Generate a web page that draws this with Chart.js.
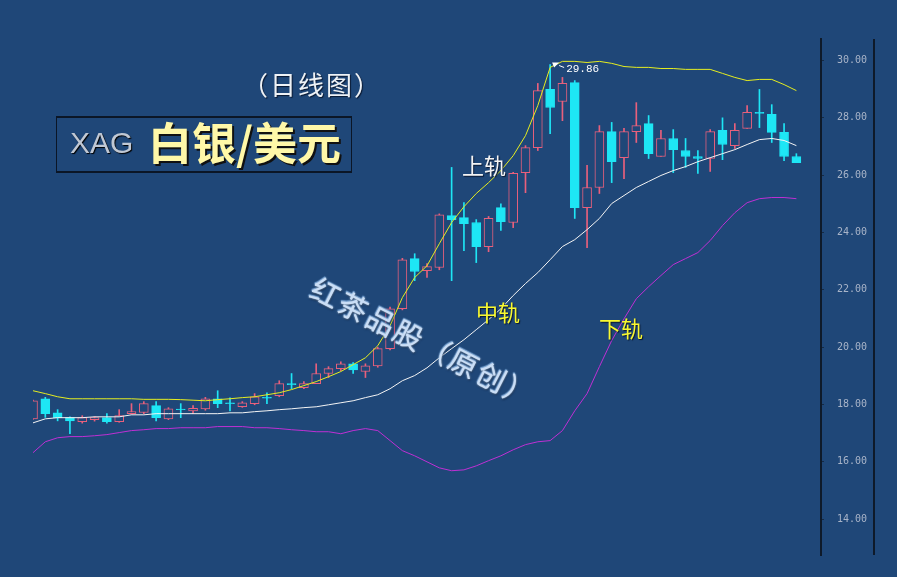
<!DOCTYPE html>
<html>
<head>
<meta charset="utf-8">
<script src="https://cdn.jsdelivr.net/npm/chart.js@4.4.1/dist/chart.umd.min.js"></script>
<style>
html, body { margin: 0; padding: 0; }
body { width: 897px; height: 577px; background: #1f4778; position: relative; overflow: hidden; font-family: "Noto Sans CJK SC", sans-serif; }
#chart { position: absolute; left: 0; top: 0; }
.lbl { position: absolute; white-space: nowrap; line-height: 1; }
#period { left: 242px; top: 71px; font-size: 26px; letter-spacing: 2px; color: #eef2f6; text-shadow: 1px 1px 1px #0a1830; }
#box { position: absolute; left: 56px; top: 116px; width: 294px; height: 53px; border: 1px solid #0b1626; border-top-width: 2px; border-bottom-width: 2px; }
#xag { left: 70px; top: 128px; font-family: "Liberation Sans", sans-serif; font-size: 30px; color: #c0c8d4; text-shadow: 1px 1px 1px #000; }
#pair { left: 148px; top: 119px; font-size: 44px; font-weight: bold; color: #fff8a8; text-shadow: 2px 2px 0 #111; }
#up { left: 462px; top: 153px; font-size: 22px; color: #f4f4f4; text-shadow: 1px 1px 1px #0a1830; }
#mid { left: 476px; top: 300px; font-size: 22px; color: #f8f830; text-shadow: 1px 1px 1px #0a1830; }
#low { left: 599px; top: 316px; font-size: 22px; color: #f8f830; text-shadow: 1px 1px 1px #0a1830; }
#mark { left: 320px; top: 272px; font-size: 29px; letter-spacing: 2px; color: #cadef6; transform: rotate(27deg); transform-origin: left top;
  text-shadow: 0 0 2px #e0f0ff, 1px 1px 2px #0a2040, -1px -1px 1px #6a9ad0; }
</style>
</head>
<body>
<canvas id="chart" width="897" height="577"></canvas>
<div class="lbl" id="period">（日线图）</div>
<div id="box"></div>
<div class="lbl" id="xag">XAG</div>
<div class="lbl" id="pair">白银/美元</div>
<div class="lbl" id="up">上轨</div>
<div class="lbl" id="mid">中轨</div>
<div class="lbl" id="low">下轨</div>
<div class="lbl" id="mark">红茶品股（原创）</div>
<script>
/* daily candles */
var opens = [17.50, 18.20, 17.71, 17.54, 17.40, 17.47, 17.54, 17.40, 17.68, 17.72,
	17.96, 17.50, 17.84, 17.78, 17.85, 18.20, 18.06, 17.92, 18.03, 18.25,
	18.31, 18.73, 18.59, 18.73, 19.08, 19.25, 19.42, 19.15, 19.35, 19.95,
	21.34, 23.09, 22.67, 22.78, 24.59, 24.52, 24.35, 23.51, 24.87, 24.35,
	26.09, 26.96, 28.99, 28.57, 29.23, 24.87, 25.57, 27.52, 26.61, 27.52,
	27.80, 26.65, 27.28, 26.86, 26.65, 26.58, 27.56, 27.03, 27.63, 28.19,
	28.12, 27.49, 26.65];
var highs = [18.15, 18.25, 17.82, 17.57, 17.61, 17.58, 17.68, 17.82, 18.03, 18.10,
	18.10, 17.89, 18.03, 17.96, 18.25, 18.48, 18.23, 18.10, 18.38, 18.41,
	18.83, 19.08, 18.80, 19.42, 19.32, 19.49, 19.46, 19.42, 20.00, 21.40,
	23.10, 23.26, 22.92, 24.65, 26.27, 25.04, 24.45, 24.56, 25.00, 26.10,
	27.03, 29.20, 29.86, 29.41, 29.30, 26.34, 27.73, 27.84, 27.63, 28.53,
	28.08, 27.56, 27.59, 27.28, 26.86, 27.59, 28.00, 27.80, 28.43, 28.99,
	28.46, 27.80, 26.75];
var lows = [17.48, 17.55, 17.43, 16.98, 17.35, 17.42, 17.35, 17.38, 17.66, 17.68,
	17.43, 17.47, 17.54, 17.68, 17.80, 17.89, 17.78, 17.90, 17.99, 18.03,
	18.27, 18.55, 18.55, 18.73, 18.94, 19.18, 19.08, 18.94, 19.30, 19.90,
	21.30, 22.32, 22.43, 22.70, 22.32, 23.37, 22.95, 23.33, 24.07, 24.17,
	25.39, 26.86, 27.45, 27.90, 24.49, 23.47, 25.36, 25.74, 25.88, 27.14,
	26.58, 26.65, 26.09, 26.27, 26.06, 26.13, 26.54, 26.93, 27.63, 27.66,
	27.14, 26.51, 26.44];
var closes = [18.13, 17.68, 17.54, 17.43, 17.54, 17.54, 17.40, 17.61, 17.75, 18.03,
	17.54, 17.85, 17.82, 17.87, 18.20, 18.03, 18.03, 18.06, 18.27, 18.22,
	18.73, 18.69, 18.73, 19.08, 19.25, 19.42, 19.21, 19.35, 19.95, 21.34,
	23.05, 22.64, 22.81, 24.62, 24.45, 24.31, 23.51, 24.49, 24.38, 26.06,
	26.96, 28.95, 28.36, 29.20, 24.87, 25.57, 27.52, 26.47, 27.52, 27.73,
	26.75, 27.28, 26.89, 26.65, 26.58, 27.52, 27.07, 27.56, 28.19, 28.15,
	27.49, 26.65, 26.44];

/* bollinger bands */
var upperBand = [18.48, 18.38, 18.27, 18.20, 18.20, 18.20, 18.20, 18.20, 18.20, 18.18,
	18.18, 18.18, 18.17, 18.15, 18.13, 18.17, 18.20, 18.24, 18.27, 18.34,
	18.41, 18.52, 18.66, 18.80, 18.97, 19.15, 19.39, 19.63, 20.05, 20.75,
	21.73, 22.43, 22.84, 23.61, 24.35, 24.90, 25.36, 25.74, 26.16, 26.68,
	27.38, 28.43, 29.76, 29.97, 29.97, 29.93, 29.97, 29.90, 29.79, 29.76,
	29.76, 29.72, 29.72, 29.69, 29.69, 29.69, 29.55, 29.41, 29.30, 29.34,
	29.34, 29.16, 28.95];
var middleBand = [17.36, 17.50, 17.54, 17.54, 17.54, 17.57, 17.57, 17.57, 17.64, 17.64,
	17.68, 17.68, 17.68, 17.68, 17.68, 17.68, 17.71, 17.71, 17.75, 17.78,
	17.82, 17.85, 17.89, 17.92, 17.99, 18.06, 18.13, 18.24, 18.34, 18.55,
	18.83, 19.01, 19.28, 19.63, 19.95, 20.26, 20.61, 20.96, 21.34, 21.80,
	22.22, 22.60, 23.05, 23.51, 23.75, 24.10, 24.49, 25.01, 25.29, 25.57,
	25.78, 25.99, 26.16, 26.30, 26.47, 26.61, 26.75, 26.89, 27.07, 27.24,
	27.28, 27.21, 27.03];
var lowerBand = [16.32, 16.70, 16.84, 16.88, 16.88, 16.91, 16.95, 17.02, 17.09, 17.12,
	17.16, 17.16, 17.19, 17.19, 17.19, 17.23, 17.23, 17.23, 17.19, 17.19,
	17.16, 17.12, 17.09, 17.05, 17.05, 16.98, 17.09, 17.16, 17.09, 16.74,
	16.39, 16.21, 16.00, 15.79, 15.69, 15.72, 15.86, 16.04, 16.21, 16.42,
	16.60, 16.70, 16.74, 17.09, 17.78, 18.38, 19.32, 20.23, 20.99, 21.69,
	22.11, 22.50, 22.88, 23.09, 23.30, 23.72, 24.24, 24.69, 25.04, 25.18,
	25.22, 25.22, 25.18];

/* two empty slots on the right */
var labels = [];
for (var i = 0; i < 65; i++) {
	labels.push(String(i + 1));
}

var yTicks = [14, 16, 18, 20, 22, 24, 26, 28, 30];

var background = '#1f4778';
var upColor = '#e8607c';
var downColor = '#1ee6f5';

var bodies = [];
var wicks = [];
var bodyFill = [];
var candleColor = [];
for (var i = 0; i < opens.length; i++) {
	bodies.push([opens[i], closes[i]]);
	wicks.push([lows[i], highs[i]]);
	if (closes[i] > opens[i]) {
		bodyFill.push(background);
		candleColor.push(upColor);
	} else {
		bodyFill.push(downColor);
		candleColor.push(downColor);
	}
}

var extras = {
	id: 'extras',
	afterDraw: function(chart) {
		var ctx = chart.ctx;
		var area = chart.chartArea;
		var xs = chart.scales.x;
		var ys = chart.scales.y;
		ctx.save();
		// outer frame line of the price axis
		ctx.strokeStyle = '#0e1a2a';
		ctx.lineWidth = 2;
		ctx.beginPath();
		ctx.moveTo(area.right + 53, area.top);
		ctx.lineTo(area.right + 53, area.bottom);
		ctx.stroke();
		// highest high marker
		var top = highs.indexOf(Math.max.apply(null, highs));
		var px = xs.getPixelForValue(top);
		var py = ys.getPixelForValue(highs[top]);
		ctx.fillStyle = '#ffffff';
		ctx.beginPath();
		ctx.moveTo(px + 2, py - 2);
		ctx.lineTo(px + 9, py - 2);
		ctx.lineTo(px + 4, py + 3);
		ctx.closePath();
		ctx.fill();
		ctx.strokeStyle = '#ffffff';
		ctx.lineWidth = 1;
		ctx.beginPath();
		ctx.moveTo(px + 9, py + 1);
		ctx.lineTo(px + 14, py + 3);
		ctx.stroke();
		ctx.font = '11px "Liberation Mono", monospace';
		ctx.textBaseline = 'middle';
		ctx.fillText(highs[top].toFixed(2), px + 16, py + 5);
		ctx.restore();
	}
};

var context = document.getElementById('chart').getContext('2d');
var chart = new Chart(context, {
	type: 'bar',
	data: {
		labels: labels,
		datasets: [
			{ type: 'line', label: 'upper', data: upperBand, borderColor: '#e6ee20', borderWidth: 1, pointRadius: 0, tension: 0, order: 0 },
			{ type: 'line', label: 'middle', data: middleBand, borderColor: '#f4f4f4', borderWidth: 1, pointRadius: 0, tension: 0, order: 0 },
			{ type: 'line', label: 'lower', data: lowerBand, borderColor: '#bf30d4', borderWidth: 1, pointRadius: 0, tension: 0, order: 0 },
			{ label: 'body', data: bodies, backgroundColor: bodyFill, borderColor: candleColor, borderWidth: 1, borderSkipped: false, barThickness: 9, grouped: false, order: 1 },
			{ label: 'wick', data: wicks, backgroundColor: candleColor, borderWidth: 0, barThickness: 1, grouped: false, order: 2 }
		]
	},
	options: {
		responsive: false,
		devicePixelRatio: 1,
		animation: false,
		layout: { padding: { left: 33, top: 39, bottom: 22, right: 0 } },
		plugins: { legend: { display: false }, tooltip: { enabled: false } },
		scales: {
			x: { type: 'category', display: false, offset: false },
			y: {
				position: 'right',
				min: 12.75,
				max: 30.75,
				afterFit: function(scale) { scale.width = 76; },
				afterBuildTicks: function(scale) {
					scale.ticks = yTicks.map(function(v) { return { value: v }; });
				},
				grid: { drawOnChartArea: false, drawTicks: true, tickLength: 3, tickColor: '#142a45' },
				border: { display: true, color: '#0e1a2a', width: 2 },
				ticks: {
					padding: 13,
					color: '#a8b4c8',
					font: { family: 'DejaVu Sans Mono', size: 10 },
					callback: function(value) { return Number(value).toFixed(2); }
				}
			}
		}
	},
	plugins: [extras]
});
</script>
</body>
</html>
